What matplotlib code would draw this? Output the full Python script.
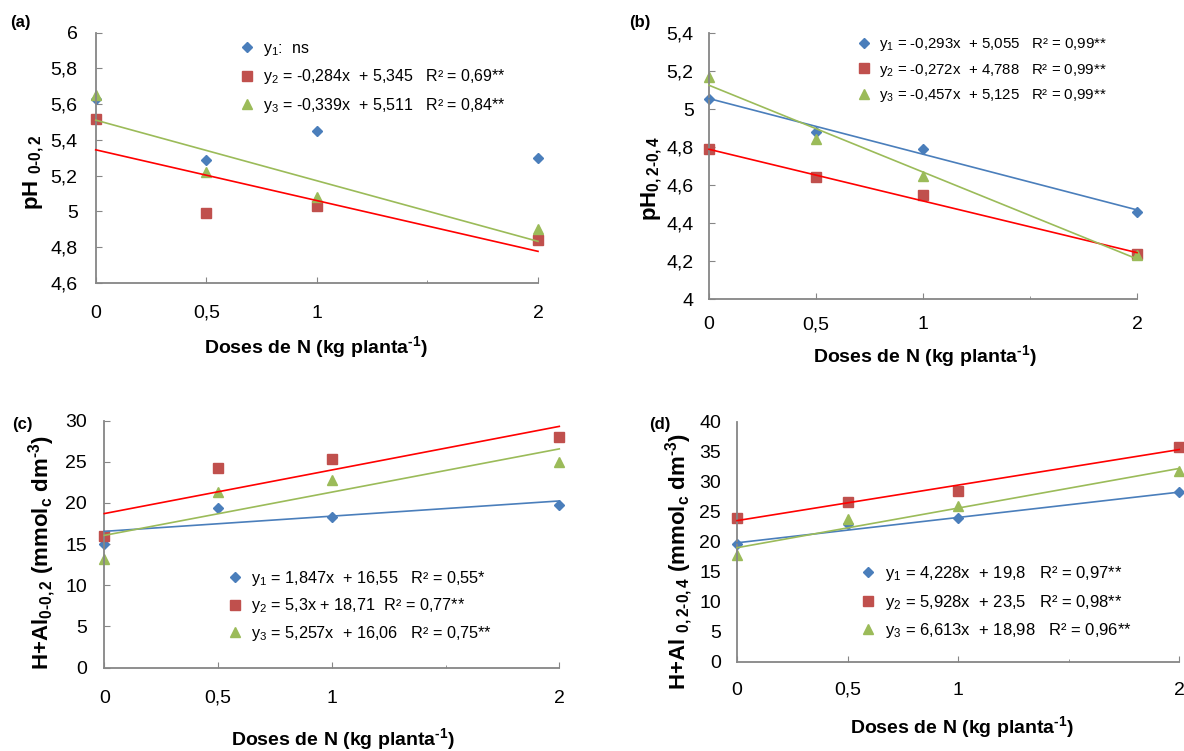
import matplotlib
matplotlib.use("Agg")
import matplotlib.pyplot as plt
import matplotlib.ticker as mticker
from matplotlib.lines import Line2D

plt.rcParams["font.family"] = ["Liberation Sans", "DejaVu Sans"]
plt.rcParams["mathtext.fontset"] = "custom"
plt.rcParams["mathtext.rm"] = "Liberation Sans"
plt.rcParams["mathtext.it"] = "Liberation Sans"
plt.rcParams["mathtext.bf"] = "Liberation Sans:bold"
plt.rcParams["mathtext.sf"] = "Liberation Sans"

# ── Data ────────────────────────────────────────────────────────────────────
doses = [0, 0.5, 1, 2]

# (a) pH 0-0,2
a_y1 = [5.63, 5.29, 5.45, 5.30]
a_y2 = [5.52, 4.99, 5.03, 4.84]
a_y3 = [5.65, 5.22, 5.08, 4.90]
a_fits = [None, (-0.284, 5.345), (-0.339, 5.511)]
a_labels = [r"y$_1$:  ns",
            r"y$_2$ = -0,284x  + 5,345   R² = 0,69**",
            r"y$_3$ = -0,339x  + 5,511   R² = 0,84**"]

# (b) pH 0,2-0,4
b_y1 = [5.055, 4.88, 4.79, 4.46]
b_y2 = [4.79, 4.64, 4.545, 4.235]
b_y3 = [5.17, 4.84, 4.65, 4.23]
b_fits = [(-0.293, 5.055), (-0.272, 4.788), (-0.457, 5.125)]
b_labels = [r"y$_1$ = -0,293x  + 5,055   R² = 0,99**",
            r"y$_2$ = -0,272x  + 4,788   R² = 0,99**",
            r"y$_3$ = -0,457x  + 5,125   R² = 0,99**"]

# (c) H+Al 0-0,2
c_y1 = [15.0, 19.4, 18.3, 19.7]
c_y2 = [16.0, 24.2, 25.3, 28.0]
c_y3 = [13.2, 21.3, 22.8, 25.0]
c_fits = [(1.847, 16.55), (5.3, 18.71), (5.257, 16.06)]
c_labels = [r"y$_1$ = 1,847x  + 16,55   R² = 0,55*",
            r"y$_2$ = 5,3x + 18,71  R² = 0,77**",
            r"y$_3$ = 5,257x  + 16,06   R² = 0,75**"]

# (d) H+Al 0,2-0,4
d_y1 = [19.6, 23.0, 23.9, 28.2]
d_y2 = [23.9, 26.6, 28.4, 35.8]
d_y3 = [17.8, 23.8, 26.0, 31.7]
d_fits = [(4.228, 19.8), (5.928, 23.5), (6.613, 18.98)]
d_labels = [r"y$_1$ = 4,228x  + 19,8   R² = 0,97**",
            r"y$_2$ = 5,928x  + 23,5   R² = 0,98**",
            r"y$_3$ = 6,613x  + 18,98   R² = 0,96**"]

xticks = [0, 0.5, 1, 2]
xtick_labels = ["0", "0,5", "1", "2"]

# ── Style ───────────────────────────────────────────────────────────────────
W, H = 1184, 751
MARKERS = ["D", "s", "^"]
MSIZE = [5.5, 7, 7.5]
MCOLORS = ["#4A7EBB", "#C0504D", "#9BBB59"]
LCOLORS = ["#4A7EBB", "#FF0000", "#9BBB59"]
GRAY = "#868686"
XLABEL = "Doses de N (kg planta$^{\\mathbf{\u20101}}$)"

fig = plt.figure(figsize=(W / 100, H / 100), dpi=100)


def px(x, y):
    return x / W, 1 - y / H


def comma(v, _=None):
    return f"{v:g}".replace(".", ",")


def panel(box, series, fits, labels, ylim, ystep, leg_xy, leg_fs, leg_sp,
          xpad, ypad, ylabel, ylabel_xy, xlabel_xy, tag, tag_xy,
          yticks_on=True):
    L, T, R, B = box
    ax = fig.add_axes([L / W, 1 - B / H, (R - L) / W, (B - T) / H])
    handles = []
    for i, ys in enumerate(series):
        if fits[i] is not None:
            m, b = fits[i]
            ax.plot([0, 2], [b, m * 2 + b], color=LCOLORS[i], lw=1.2,
                    zorder=3, clip_on=False)
        ax.plot(doses, ys, linestyle="None", marker=MARKERS[i],
                ms=MSIZE[i], color=MCOLORS[i], mec=MCOLORS[i],
                zorder=2, clip_on=False)
        handles.append(Line2D([], [], linestyle="None", marker=MARKERS[i],
                              ms=MSIZE[i], color=MCOLORS[i]))
    ax.set_xlim(0, 2)
    ax.set_ylim(*ylim)
    ax.set_xticks(xticks)
    ax.set_xticklabels(xtick_labels)
    ax.set_xticks([1.5], minor=True)
    ax.yaxis.set_major_locator(mticker.MultipleLocator(ystep))
    ax.yaxis.set_major_formatter(mticker.FuncFormatter(comma))
    for s in ["top", "right"]:
        ax.spines[s].set_visible(False)
    for s in ["left", "bottom"]:
        ax.spines[s].set_color(GRAY)
        ax.spines[s].set_linewidth(1.3)
    ax.tick_params(axis="x", direction="in", length=4, color=GRAY,
                   labelsize=14, pad=xpad)
    ax.tick_params(axis="x", which="minor", direction="in", length=2,
                   color=GRAY)
    ax.tick_params(axis="y", direction="in", length=4 if yticks_on else 0,
                   color=GRAY, labelsize=14, pad=ypad)
    ax.legend(handles, labels, loc="upper left",
              bbox_to_anchor=px(*leg_xy), bbox_transform=fig.transFigure,
              frameon=False, fontsize=leg_fs, borderpad=0, borderaxespad=0,
              handlelength=1.0, handletextpad=0.5, labelspacing=leg_sp)
    fig.text(*px(*ylabel_xy), ylabel, rotation=90, ha="center", va="center",
             fontsize=16, fontweight="bold")
    fig.text(*px(*xlabel_xy), XLABEL, ha="center", va="center",
             fontsize=14, fontweight="bold")
    fig.text(*px(*tag_xy), tag, ha="center", va="center", fontsize=12,
             fontweight="bold")
    return ax


panel((95.7, 32.7, 538, 283), [a_y1, a_y2, a_y3], a_fits, a_labels,
      (4.6, 6.0), 0.2, (239, 41), 11.5, 0.58, 15.5, 13,
      "pH $_{\\mathbf{0\u20100,2}}$", (34, 172), (316, 347), "(a)", (20, 22))

panel((709, 33, 1137, 299), [b_y1, b_y2, b_y3], b_fits, b_labels,
      (4.0, 5.4), 0.2, (856, 36), 10.8, 0.58, 12.5, 11,
      "pH$_{\\mathbf{0,2\u2010 0,4}}$", (652, 178), (925, 356), "(b)", (640, 22))

panel((104.3, 420.7, 559.3, 667.5), [c_y1, c_y2, c_y3], c_fits, c_labels,
      (0, 30), 5, (227, 569), 11.7, 0.52, 16, 12.5,
      "H+Al$_{\\mathbf{0\u20100,2}}$ (mmol$_{\\mathbf{c}}$ dm$^{\\mathbf{\u20103}}$)",
      (42, 552), (343, 739), "(c)", (22, 425))

panel((737, 421.7, 1179.3, 661.5), [d_y1, d_y2, d_y3], d_fits, d_labels,
      (0, 40), 5, (860, 564), 12, 0.58, 14.5, 11.5,
      "H+Al $_{\\mathbf{0,2\u20100,4}}$ (mmol$_{\\mathbf{c}}$ dm$^{\\mathbf{\u20103}}$)",
      (679, 562), (962, 727), "(d)", (660, 424), yticks_on=False)

fig.savefig("out.png", dpi=100)
